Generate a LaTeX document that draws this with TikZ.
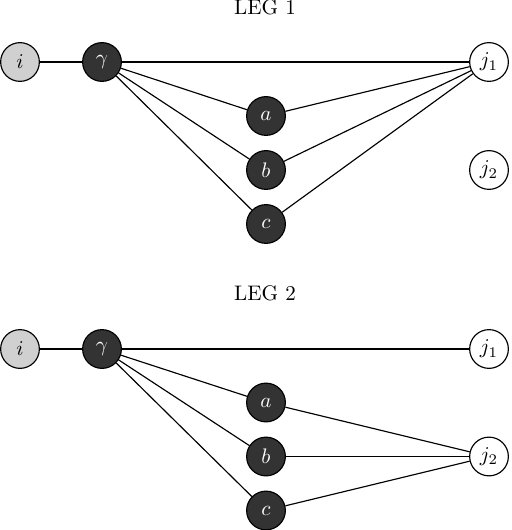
\documentclass[tikz,border=0pt]{standalone}
\usepackage{xcolor}
\definecolor{darknode}{HTML}{333333}
\definecolor{lightnode}{HTML}{D0D0D0}
\begin{document}
\begin{tikzpicture}[x=0.475pt,y=-0.475pt,
  base/.style={circle,draw=black,line width=0.55pt,minimum size=18.4pt,inner sep=0pt},
  srcnode/.style={base,fill=lightnode},
  darkn/.style={base,fill=darknode,text=white},
  tgtnode/.style={base,fill=white},
  edge/.style={line width=0.55pt}]
\useasboundingbox (0,0) rectangle (512,530);
% LEG 1
\node[anchor=base] (t1) at (265,15) {LEG 1};
\node[srcnode] (i1) at (20,62) {$i$};
\node[darkn] (g1) at (102,62) {$\gamma$};
\node[tgtnode] (j11) at (489,62) {$j_1$};
\node[darkn] (a1) at (266,116) {$a$};
\node[darkn] (b1) at (266,170) {$b$};
\node[darkn] (c1) at (266,224) {$c$};
\node[tgtnode] (j21) at (489,170) {$j_2$};
\draw[edge] (i1) -- (g1);
\draw[edge] (g1) -- (j11);
\draw[edge] (g1) -- (a1);
\draw[edge] (g1) -- (b1);
\draw[edge] (g1) -- (c1);
\draw[edge] (a1) -- (j11);
\draw[edge] (b1) -- (j11);
\draw[edge] (c1) -- (j11);
% LEG 2
\node[anchor=base] (t2) at (265,300) {LEG 2};
\node[srcnode] (i2) at (20,349) {$i$};
\node[darkn] (g2) at (102,349) {$\gamma$};
\node[tgtnode] (j12) at (489,349) {$j_1$};
\node[darkn] (a2) at (266,402.5) {$a$};
\node[darkn] (b2) at (266,456.5) {$b$};
\node[darkn] (c2) at (266,510.5) {$c$};
\node[tgtnode] (j22) at (489,456.5) {$j_2$};
\draw[edge] (i2) -- (g2);
\draw[edge] (g2) -- (j12);
\draw[edge] (g2) -- (a2);
\draw[edge] (g2) -- (b2);
\draw[edge] (g2) -- (c2);
\draw[edge] (a2) -- (j22);
\draw[edge] (b2) -- (j22);
\draw[edge] (c2) -- (j22);
\end{tikzpicture}
\end{document}
